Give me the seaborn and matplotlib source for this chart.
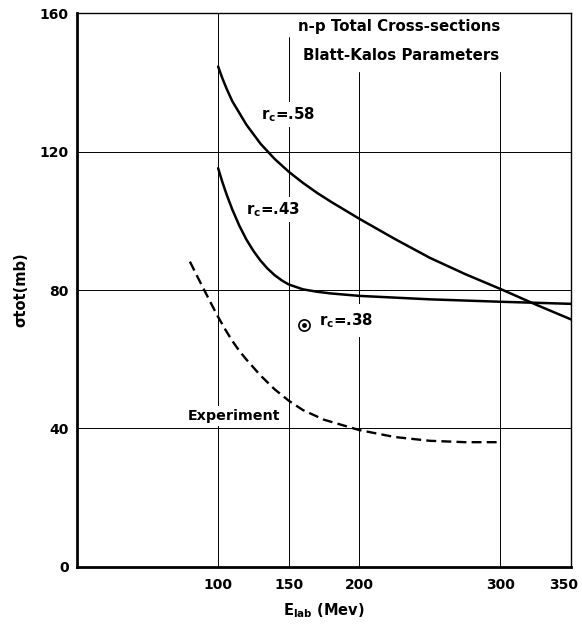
import matplotlib
matplotlib.use("Agg")
import matplotlib.pyplot as plt
from matplotlib.transforms import ScaledTranslation
import seaborn as sns

# ---- data ----
e_rc58 = [100, 103, 106, 110, 120, 130, 140, 150, 160, 170, 180, 200, 225, 250, 275, 300, 325, 350]
s_rc58 = [144.6, 141.2, 138.2, 134.6, 127.8, 122.3, 117.9, 114.2, 111.0, 108.1, 105.5,
          100.6, 94.8, 89.3, 84.6, 80.3, 75.8, 71.5]

e_rc43 = [100, 103, 106, 110, 115, 120, 125, 130, 135, 140, 145, 150, 160, 170, 180, 200, 250, 300, 350]
s_rc43 = [115.2, 111.2, 107.6, 103.3, 98.6, 94.6, 91.3, 88.5, 86.2, 84.3, 82.8, 81.6,
          80.2, 79.5, 79.0, 78.3, 77.3, 76.6, 76.0]

e_exp = [80, 85, 90, 95, 100, 105, 110, 115, 120, 130, 140, 150, 160, 175, 200, 225, 250, 275, 299]
s_exp = [88.2, 84.1, 80.1, 76.1, 72.2, 68.6, 65.3, 62.4, 59.9, 55.3, 51.3, 48.0, 45.3,
         42.5, 39.5, 37.5, 36.4, 36.0, 36.0]

e_rc38 = [161]
s_rc38 = [70]

x_ticks = [100, 150, 200, 300, 350]
y_ticks = [0, 40, 80, 120, 160]

# ---- styling ----
sns.set_theme(style="white")
plt.rcParams["font.family"] = ["DejaVu Sans"]
plt.rcParams["text.color"] = "black"
plt.rcParams["axes.labelcolor"] = "black"
plt.rcParams["xtick.color"] = "black"
plt.rcParams["ytick.color"] = "black"

fig = plt.figure(figsize=(5.82, 6.29), dpi=100)
ax = fig.add_axes([77 / 582, 1 - 566.7 / 629, (571 - 77) / 582, (566.7 - 13.3) / 629])

ax.set_xlim(0, 350)
ax.set_ylim(0, 160)

# grid lines (partial, as in the original drawing)
grid_top = {100: 1.0, 150: 0.957, 200: 0.894, 300: 0.894}
for xv in x_ticks[:-1]:
    ax.axvline(xv, ymax=grid_top[xv], color="black", lw=0.7, zorder=1)
for yv in y_ticks[1:-1]:
    ax.axhline(yv, color="black", lw=0.7, zorder=1)

# curves
sns.lineplot(x=e_rc58, y=s_rc58, color="black", lw=1.8, ax=ax, zorder=4)
sns.lineplot(x=e_rc43, y=s_rc43, color="black", lw=1.8, ax=ax, zorder=4)
sns.lineplot(x=e_exp, y=s_exp, color="black", lw=1.7, ax=ax, zorder=4,
             linestyle=(0, (4.2, 2.2)))

# circled dot point
sns.scatterplot(x=e_rc38, y=s_rc38, s=65, facecolor="white", edgecolor="black",
                linewidth=1.2, ax=ax, zorder=5)
sns.scatterplot(x=e_rc38, y=s_rc38, s=12, color="black", linewidth=0, ax=ax, zorder=6)

# text labels
fw = "bold"
wbox = dict(facecolor="white", edgecolor="none", pad=2.5)
ax.text(156.3, 155.0, "n-p Total Cross-sections", fontsize=10.8, fontweight=fw,
        va="baseline", ha="left", zorder=3)
ax.text(160.3, 146.5, "Blatt-Kalos Parameters", fontsize=10.8, fontweight=fw,
        va="baseline", ha="left", zorder=3)
ax.text(130.6, 129.4, r"r$_\mathregular{c}$=.58", fontsize=10.8, fontweight=fw,
        va="baseline", ha="left", zorder=3, bbox=wbox)
ax.text(119.5, 101.9, r"r$_\mathregular{c}$=.43", fontsize=10.8, fontweight=fw,
        va="baseline", ha="left", zorder=3, bbox=wbox)
ax.text(171.4, 69.9, r"r$_\mathregular{c}$=.38", fontsize=10.8, fontweight=fw,
        va="baseline", ha="left", zorder=3,
        bbox=dict(facecolor="white", edgecolor="none", pad=5))
ax.text(78.7, 42.4, "Experiment", fontsize=10.3, fontweight=fw, va="baseline",
        ha="left", zorder=3, bbox=wbox)

# axes, ticks
ax.set_xticks(x_ticks)
ax.set_yticks(y_ticks)
ax.set_xticklabels([str(v) for v in x_ticks], fontsize=10, fontweight=fw)
ax.set_yticklabels([str(v) for v in y_ticks], fontsize=10, fontweight=fw)
ax.tick_params(axis="both", length=0)
ax.tick_params(axis="x", pad=8)
ax.tick_params(axis="y", pad=6)
last = ax.get_xticklabels()[-1]
last.set_transform(last.get_transform() + ScaledTranslation(-5 / 72, 0, fig.dpi_scale_trans))

ax.set_xlabel(r"E$_\mathregular{lab}$ (Mev)", fontsize=10.5, fontweight=fw, labelpad=7)
ax.set_ylabel("σtot(mb)", fontsize=10.5, fontweight=fw, labelpad=8)

for side in ["left", "bottom"]:
    ax.spines[side].set_linewidth(2.0)
    ax.spines[side].set_color("black")
for side in ["top", "right"]:
    ax.spines[side].set_linewidth(1.0)
    ax.spines[side].set_color("black")
    ax.spines[side].set_visible(True)

fig.savefig("out.png", dpi=100)
